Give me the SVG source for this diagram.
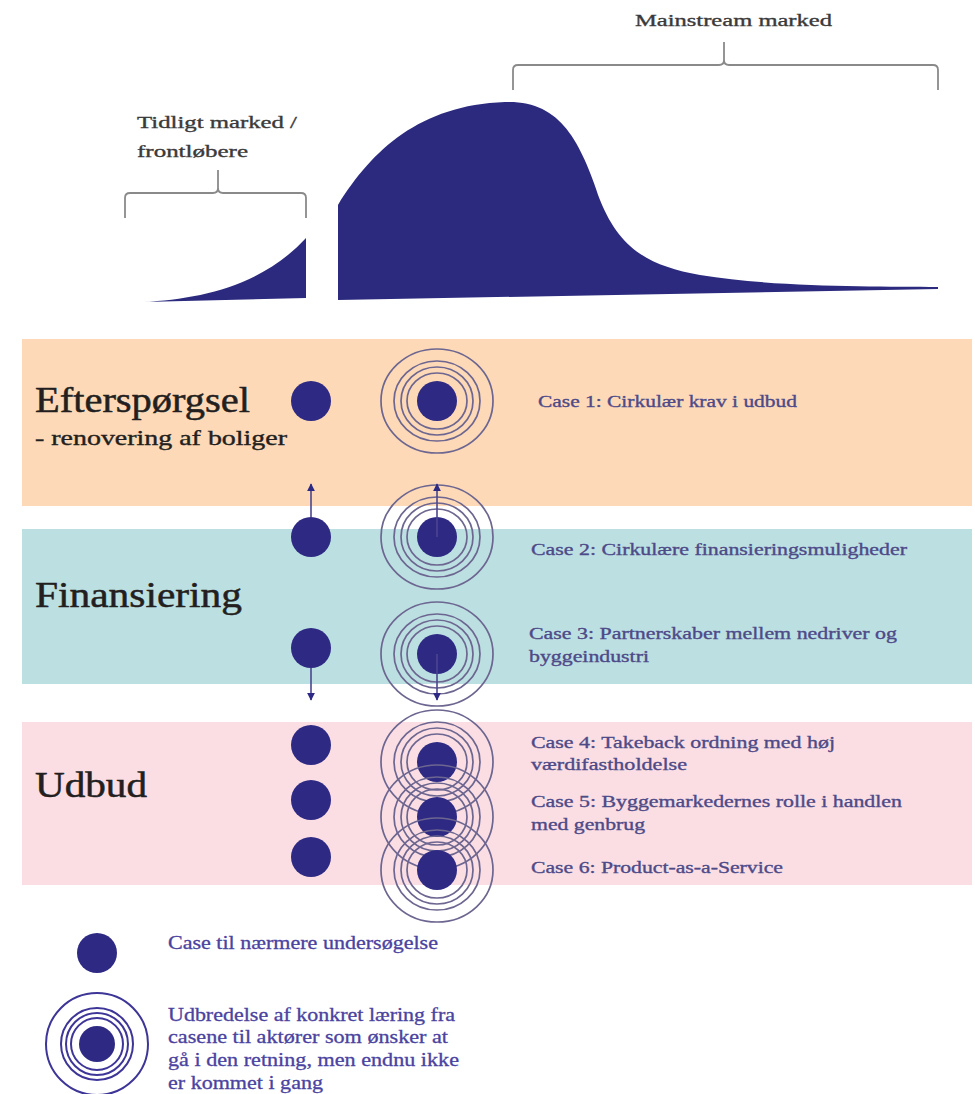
<svg xmlns="http://www.w3.org/2000/svg" width="975" height="1094" viewBox="0 0 975 1094">
<defs>
<style>
.top{font-family:"Liberation Serif","DejaVu Serif",serif;font-size:17px;fill:#3a3a3a;stroke:#3a3a3a;stroke-width:0.35}
.head{font-family:"Liberation Serif","DejaVu Serif",serif;font-size:35px;fill:#231f20;stroke:#231f20;stroke-width:0.5}
.sub{font-family:"Liberation Serif","DejaVu Serif",serif;font-size:22px;fill:#231f20;stroke:#231f20;stroke-width:0.4}
.case{font-family:"Liberation Serif","DejaVu Serif",serif;font-size:17px;fill:#4d4a88;stroke:#4d4a88;stroke-width:0.35}
.leg{font-family:"Liberation Serif","DejaVu Serif",serif;font-size:18px;fill:#4a43a0;stroke:#4a43a0;stroke-width:0.3}
.dot{fill:#2e2a84}
.ring{fill:none;stroke:#6c6690;stroke-width:1.7}
.lring{fill:none;stroke:#3d3597;stroke-width:2}
.brk{fill:none;stroke:#8a8a8a;stroke-width:1.8}
.arr{stroke:#4a4690;stroke-width:1.6;fill:none;marker-end:url(#ah)}
</style>
<marker id="ah" viewBox="0 0 10 10" refX="9" refY="5" markerWidth="5" markerHeight="5" orient="auto">
<path d="M0,0 L10,5 L0,10 Z" fill="#2e2a84"/>
</marker>
<g id="rings">
<ellipse class="ring" rx="56" ry="52"/>
<ellipse class="ring" rx="43" ry="40"/>
<ellipse class="ring" rx="36" ry="34"/>
<ellipse class="ring" rx="30" ry="28"/>
<circle class="dot" r="20"/>
</g>
</defs>
<rect width="975" height="1094" fill="#ffffff"/>

<g id="curve">
<path d="M143,302 C200,299 262,286 306,238 L306,298 Z" fill="#2b2a7e"/>
<path d="M338,300 L338,205 C372,150 420,105 505,102 C560,100 580,140 600,200 C620,250 650,266 700,275 C780,288 880,286 938,287 L938,289 L338,300 Z" fill="#2b2a7e"/>
</g>

<g id="bracket-early">
<path class="brk" d="M125,218 V198 Q125,193 130,193 H213 Q218,193 218,188 V170 M218,188 Q218,193 223,193 H301 Q306,193 306,198 V218"/>
<text class="top" x="137" y="128" textLength="160" lengthAdjust="spacingAndGlyphs">Tidligt marked /</text>
<text class="top" x="137" y="157" textLength="111" lengthAdjust="spacingAndGlyphs">frontløbere</text>
</g>

<g id="bracket-mainstream">
<path class="brk" d="M513,90 V70 Q513,65 518,65 H719 Q724,65 724,60 V42 M724,60 Q724,65 729,65 H933 Q938,65 938,70 V90"/>
<text class="top" x="635" y="26" textLength="197" lengthAdjust="spacingAndGlyphs">Mainstream marked</text>
</g>

<g id="band-efterspoergsel">
<rect x="22" y="339" width="950" height="167" fill="#fdd9b8"/>
<text class="head" x="35" y="412" textLength="215" lengthAdjust="spacingAndGlyphs">Efterspørgsel</text>
<text class="sub" x="35" y="445" textLength="252" lengthAdjust="spacingAndGlyphs">- renovering af boliger</text>
</g>
<g id="band-finansiering">
<rect x="22" y="529" width="950" height="155" fill="#bcdfe2"/>
<text class="head" x="35" y="607" textLength="207" lengthAdjust="spacingAndGlyphs">Finansiering</text>
</g>
<g id="band-udbud">
<rect x="22" y="722" width="950" height="163" fill="#fadee4"/>
<text class="head" x="35" y="797" textLength="112" lengthAdjust="spacingAndGlyphs">Udbud</text>
</g>

<g id="dots-left">
<circle class="dot" cx="311" cy="401" r="20"/>
<circle class="dot" cx="311" cy="537" r="20"/>
<circle class="dot" cx="311" cy="648" r="20"/>
<circle class="dot" cx="311" cy="745" r="20"/>
<circle class="dot" cx="311" cy="800" r="20"/>
<circle class="dot" cx="311" cy="857" r="20"/>
</g>

<g id="case1"><use href="#rings" x="437" y="401"/>
<text class="case" x="538" y="407" textLength="259" lengthAdjust="spacingAndGlyphs">Case 1: Cirkulær krav i udbud</text></g>
<g id="case2"><use href="#rings" x="437" y="537"/>
<text class="case" x="531" y="555" textLength="376" lengthAdjust="spacingAndGlyphs">Case 2: Cirkulære finansieringsmuligheder</text></g>
<g id="case3"><use href="#rings" x="437" y="654"/>
<text class="case" x="529" y="639" textLength="368" lengthAdjust="spacingAndGlyphs">Case 3: Partnerskaber mellem nedriver og</text>
<text class="case" x="529" y="662" textLength="120" lengthAdjust="spacingAndGlyphs">byggeindustri</text></g>
<g id="case4"><use href="#rings" x="437" y="762"/>
<text class="case" x="531" y="748" textLength="304" lengthAdjust="spacingAndGlyphs">Case 4: Takeback ordning med høj</text>
<text class="case" x="531" y="770" textLength="156" lengthAdjust="spacingAndGlyphs">værdifastholdelse</text></g>
<g id="case5"><use href="#rings" x="437" y="817"/>
<text class="case" x="531" y="807" textLength="371" lengthAdjust="spacingAndGlyphs">Case 5: Byggemarkedernes rolle i handlen</text>
<text class="case" x="531" y="830" textLength="114" lengthAdjust="spacingAndGlyphs">med genbrug</text></g>
<g id="case6"><use href="#rings" x="437" y="870"/>
<text class="case" x="531" y="873" textLength="252" lengthAdjust="spacingAndGlyphs">Case 6: Product-as-a-Service</text></g>

<g id="connectors">
<line class="arr" x1="311" y1="517" x2="311" y2="484"/>
<line class="arr" x1="437" y1="537" x2="437" y2="484"/>
<line class="arr" x1="311" y1="668" x2="311" y2="700"/>
<line class="arr" x1="437" y1="654" x2="437" y2="700"/>
</g>

<g id="legend-dot">
<circle class="dot" cx="97" cy="953" r="20"/>
<text class="leg" x="168" y="949" textLength="270" lengthAdjust="spacingAndGlyphs">Case til nærmere undersøgelse</text>
</g>
<g id="legend-rings">
<circle class="lring" cx="97" cy="1044" r="51"/>
<circle class="lring" cx="97" cy="1044" r="36"/>
<circle class="lring" cx="97" cy="1044" r="31"/>
<circle class="lring" cx="97" cy="1044" r="26"/>
<circle class="dot" cx="97" cy="1044" r="18"/>
<text class="leg" x="168" y="1021" textLength="287" lengthAdjust="spacingAndGlyphs">Udbredelse af konkret læring fra</text>
<text class="leg" x="168" y="1043" textLength="280" lengthAdjust="spacingAndGlyphs">casene til aktører som ønsker at</text>
<text class="leg" x="168" y="1066" textLength="291" lengthAdjust="spacingAndGlyphs">gå i den retning, men endnu ikke</text>
<text class="leg" x="168" y="1089" textLength="155" lengthAdjust="spacingAndGlyphs">er kommet i gang</text>
</g>
</svg>
